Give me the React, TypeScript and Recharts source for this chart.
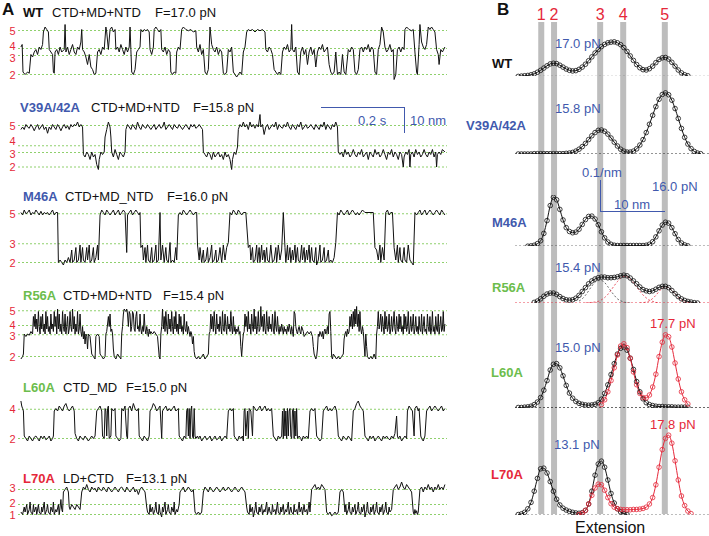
import { LineChart, Line, XAxis, YAxis, ReferenceLine } from 'recharts'

const RED = '#e5283a'
const BLUE = '#4159ad'
const GREEN = '#6cbd4c'
const GRID = '#8fd06c'
const FONT = '"Liberation Sans", Arial, sans-serif'

// ---- panel A: time traces, [time (ms), extension above lowest state (nm)] ----
const wtTrace = [[0,11],[3,12],[5,1],[10,0],[16,1],[20,0.5],[24,8],[28,7],[32,9],[36,10],[40,8],[44,11],[48,10],[52,12],[54,17],[58,19],[62,18],[66,17],[68,10],[72,9],[76,8],[78,1],[80,0.5],[82,9],[86,10],[90,8],[94,11],[98,9],[104,10],[106,20],[108,9],[112,11],[116,8],[120,10],[124,12],[128,9],[132,8],[136,11],[140,10],[144,13],[146,18],[148,10],[152,9],[156,7],[160,4],[164,8],[168,3],[172,2],[176,0],[180,0.5],[184,9],[188,10],[192,8],[196,11],[200,10],[204,19],[206,17],[210,10],[214,18],[218,19],[222,17],[226,18],[228,10],[232,11],[236,9],[240,12],[244,10],[248,8],[252,11],[256,9],[260,11],[262,19],[264,10],[266,1],[270,0],[274,2],[278,9],[282,10],[286,11],[288,18],[292,17],[296,18],[300,17.5],[304,18],[308,17],[310,10],[314,8],[318,11],[320,18],[324,19],[328,18],[332,17],[336,18],[338,10],[342,9],[346,11],[350,8],[354,10],[358,9],[360,1],[364,0],[368,1],[372,0.5],[374,9],[378,11],[382,10],[386,18],[390,19],[396,18],[402,17.5],[408,18],[414,17],[420,17.5],[422,11],[426,9],[430,12],[434,8],[438,10],[442,1],[446,0],[450,2],[454,19],[458,12],[462,10],[466,9],[470,11],[474,8],[478,10],[482,9],[486,0.5],[490,0],[494,1],[498,10],[502,9],[506,11],[510,1],[514,0],[518,-1],[522,0],[526,1],[530,0],[534,9],[538,11],[542,17],[546,18],[550,17.5],[556,18],[562,17],[568,18],[574,17.5],[580,18],[586,17],[588,10],[592,9],[596,11],[600,10],[604,8],[608,2],[612,1],[616,0],[620,1],[624,0],[628,9],[632,11],[636,10],[640,12],[644,9],[648,10],[650,20],[652,10],[656,9],[660,11],[664,1],[668,0],[672,9],[676,11],[680,8],[684,10],[688,4],[692,9],[696,11],[700,8],[704,10],[708,3],[712,9],[716,11],[720,10],[724,12],[728,9],[732,10],[736,11],[740,4],[744,1],[748,0],[752,1],[756,9],[760,0],[764,1],[768,0],[772,8],[776,1],[780,0],[786,10],[790,9],[794,11],[798,10],[802,1],[806,0],[810,2],[814,10],[818,11],[822,9],[826,11],[830,10],[834,12],[838,9],[842,11],[846,10],[850,1],[854,0],[858,10],[862,12],[866,19],[870,17],[874,11],[878,9],[882,10],[886,12],[890,9],[894,10],[896,-2],[900,0],[904,10],[908,11],[912,9],[916,11],[920,10],[922,18],[926,19],[932,18],[938,17.5],[942,18],[946,9],[950,1],[952,0],[956,12],[958,20],[962,13],[966,11],[970,10],[974,12],[978,19],[982,18],[986,19],[990,18],[994,17],[998,10],[1002,8],[1004,4],[1008,10],[1012,9],[1018,11]]

const v39Trace = [[0,15],[4,16],[8,15],[12,17],[16,16],[20,15.5],[24,17],[28,16],[32,14.5],[36,16],[40,17],[44,15],[48,16],[52,17],[56,15],[60,16],[64,13.5],[68,16],[72,15],[76,17],[80,16],[84,15],[88,17],[92,16],[96,14.5],[100,16],[104,17],[108,15.5],[112,16.5],[116,15],[120,17],[124,16],[128,17],[132,16.5],[136,18],[140,16],[144,17],[148,16],[150,5],[154,4],[158,6],[162,5],[166,3],[170,6],[174,4],[178,5],[182,1],[186,-1],[188,3],[192,6],[196,5],[200,6],[202,12],[206,15],[210,18],[214,16],[216,12],[218,6],[222,4],[226,7],[230,5],[234,3],[238,6],[242,5],[246,4],[250,6],[252,15],[256,17],[260,16],[264,15],[268,17],[272,16],[276,15],[280,18],[284,16],[288,15],[292,17],[296,16],[300,15.5],[304,17],[308,16],[312,15],[316,16],[320,17],[324,15],[328,16],[332,17],[336,15.5],[340,16],[344,18],[348,15],[352,16],[356,17],[360,16],[364,15],[368,17],[372,16],[376,15.5],[380,17],[384,16],[388,15],[392,16],[396,17],[400,16],[404,15],[408,17],[412,16],[416,17],[420,15.5],[424,16],[428,17],[432,16],[436,15],[438,6],[442,5],[446,4],[450,6],[454,5],[458,3],[462,6],[466,4],[470,5],[474,6],[478,4],[482,5],[486,3],[490,6],[494,4],[498,5],[502,3],[506,-1],[508,3],[512,6],[516,5],[520,8],[522,15],[526,17],[530,16],[534,18],[538,16],[542,17],[546,15],[550,18],[554,16],[558,17],[562,15.5],[566,17],[570,16],[574,21],[576,16],[580,17],[584,13],[588,16],[592,17],[596,15],[600,16],[604,17],[608,16],[612,18],[616,15],[620,17],[624,16],[628,15.5],[632,17],[636,16],[640,18],[644,16],[648,15],[652,17],[656,16],[660,15],[664,17],[668,16],[672,18],[676,15],[680,16],[684,17],[688,15.5],[692,16],[696,17],[700,16],[704,15],[708,17],[712,16],[716,15],[720,17],[724,16],[728,18],[732,15],[736,17],[740,16],[744,15],[748,17],[752,16],[756,18],[760,16],[762,6],[766,5],[770,6],[774,4],[778,7],[782,5],[786,6],[790,4],[794,5],[798,7],[802,5],[806,4],[810,6],[814,5],[818,7],[822,4],[826,5],[830,6],[834,3],[838,6],[842,5],[846,4],[850,7],[854,5],[858,6],[862,4],[866,5],[870,7],[874,5],[878,3],[882,6],[886,5],[890,7],[894,4],[898,6],[902,5],[906,3],[910,6],[914,5],[918,0],[920,4],[924,6],[928,5],[932,7],[934,0],[936,5],[940,6],[944,4],[948,7],[952,5],[956,6],[960,4],[964,5],[968,7],[972,5],[976,4],[980,6],[984,5],[988,7],[992,4],[996,6],[998,0],[1000,5],[1004,6],[1008,5],[1012,7],[1018,6]]

const m46Trace = [[0,20],[4,19],[8,21],[12,19.5],[16,20],[20,21],[24,19],[28,20],[32,19.5],[36,21],[40,20],[44,19],[48,20.5],[52,19],[56,20],[60,19.5],[64,20],[68,19],[72,20],[76,21],[80,19],[84,20],[88,20],[90,0],[94,1],[98,0],[102,-1],[106,1],[110,0],[114,2],[118,0],[122,5],[124,0],[128,1],[132,6],[134,0],[138,1],[142,7],[144,0],[148,6],[150,1],[154,0],[158,6],[160,1],[164,7],[166,0],[170,1],[174,6],[176,0],[180,2],[184,7],[186,1],[190,19],[194,21],[198,20],[202,19],[206,21],[210,20],[214,19],[218,20],[222,21],[226,19],[230,20],[234,21],[238,19],[242,20],[246,21],[250,20],[254,4],[256,19],[260,20],[264,21],[268,19],[272,20],[276,21],[280,20],[284,19],[286,20],[288,6],[292,7],[294,1],[298,6],[300,0],[304,7],[306,1],[310,0],[314,6],[316,0],[320,1],[324,7],[326,0],[330,1],[334,20],[336,1],[340,7],[344,0],[348,6],[350,1],[354,0],[358,8],[360,0],[364,1],[368,0],[372,6],[374,1],[378,19],[382,20],[386,19],[390,21],[394,20],[398,19],[402,20],[406,21],[410,20],[414,19],[418,20],[422,20],[424,7],[428,1],[430,6],[434,0],[438,5],[440,0],[444,1],[448,6],[450,0],[454,2],[458,7],[460,0],[464,1],[468,5],[470,0],[474,1],[478,6],[482,0],[486,7],[490,1],[494,6],[498,8],[502,20],[506,19],[510,21],[514,20],[518,19],[522,21],[526,20],[530,19],[534,20],[540,20],[546,6],[550,7],[552,1],[556,6],[558,0],[562,1],[566,7],[568,0],[572,6],[574,0],[578,7],[580,1],[584,5],[586,0],[590,6],[592,1],[596,0],[600,7],[604,0],[608,1],[612,6],[614,0],[618,7],[622,1],[626,5],[630,20],[634,6],[636,0],[640,7],[642,1],[646,6],[648,0],[652,5],[654,1],[658,7],[660,0],[664,6],[666,1],[670,0],[674,7],[676,1],[680,6],[682,0],[686,5],[688,1],[692,7],[694,0],[698,6],[700,1],[704,0],[708,6],[710,-1],[714,1],[718,7],[720,0],[724,1],[728,6],[730,0],[734,1],[738,5],[740,0],[744,1],[748,0],[752,2],[756,8],[760,20],[764,19],[768,21],[772,20],[776,19],[780,20],[784,21],[788,19],[792,20],[796,21],[800,20],[804,19],[808,20],[812,19],[816,20],[820,21],[826,20],[846,20],[850,6],[854,5],[858,1],[862,7],[864,0],[868,6],[872,1],[876,20],[880,21],[884,19],[888,20],[892,20],[896,6],[900,1],[904,7],[906,0],[910,6],[912,1],[916,0],[920,6],[922,1],[926,0],[930,7],[934,1],[938,0],[942,-1],[946,20],[950,19],[954,20],[958,21],[962,19],[966,20],[970,21],[974,19],[978,20],[982,21],[986,20],[990,19],[994,20],[998,21],[1002,20],[1006,19],[1010,21],[1014,20],[1018,19]]

const r56Trace = [[0,-1],[4,0],[6,1],[8,9],[12,8],[16,9],[20,8.5],[24,10],[28,9],[30,16],[32,12],[34,17],[36,11],[38,15],[40,10],[42,18],[44,12],[46,9],[48,16],[50,11],[52,17],[54,10],[56,13],[58,9],[60,18],[62,11],[64,16],[66,10],[68,12],[70,9],[72,17],[74,11],[76,13],[78,10],[80,18],[82,12],[84,16],[86,9],[88,19],[90,11],[92,17],[94,10],[96,13],[98,9],[100,18],[102,12],[104,10],[106,17],[108,9],[110,12],[112,16],[114,9],[116,11],[118,18],[120,12],[122,10],[124,19],[126,11],[128,16],[130,9],[132,13],[134,10],[136,18],[138,9],[140,11],[142,17],[144,10],[146,8],[148,12],[150,7],[152,10],[154,5],[156,9],[158,8],[160,3],[162,9],[166,8],[170,1],[174,0],[178,-1],[180,8],[184,9],[188,8],[190,1],[194,0],[198,-1],[202,0],[204,9],[206,10],[208,13],[210,16],[212,12],[214,17],[216,10],[218,11],[220,9],[222,3],[224,0],[228,-1],[232,1],[236,0],[240,-1],[242,9],[244,12],[246,17],[248,19],[250,18.5],[252,18],[254,19],[256,17],[258,12],[260,18],[262,17],[264,10],[266,12],[268,18],[270,17],[272,11],[274,10],[276,16],[278,18],[280,11],[282,12],[284,10],[286,17],[288,11],[290,9],[292,12],[294,10],[296,17],[298,11],[300,9],[302,12],[304,10],[306,8],[308,11],[310,9],[312,10],[316,9],[320,10],[324,9],[328,8],[332,0],[334,-1],[336,9],[338,12],[340,19],[342,11],[344,16],[346,10],[348,18],[350,12],[352,9],[354,17],[356,11],[358,15],[360,10],[362,18],[364,12],[366,9],[368,16],[370,11],[372,18],[374,10],[376,13],[378,9],[380,17],[382,11],[384,16],[386,10],[388,12],[390,9],[392,17],[394,11],[396,10],[398,14],[400,9],[402,12],[404,10],[406,8],[408,10],[410,9],[412,5],[414,8],[416,2],[418,0],[422,-1],[426,0],[430,-1],[434,0],[438,1],[442,-1],[446,0],[450,1],[452,9],[454,10],[456,17],[458,11],[460,16],[462,10],[464,18],[466,12],[468,9],[470,17],[472,11],[474,13],[476,10],[478,16],[480,12],[482,9],[484,18],[486,11],[488,10],[490,17],[492,12],[494,9],[496,16],[498,11],[500,13],[502,10],[504,18],[506,12],[508,9],[510,16],[512,10],[514,12],[516,9],[518,11],[520,10],[522,12],[524,9],[526,10],[528,4],[530,0],[532,5],[534,9],[536,10],[538,17],[540,12],[542,16],[544,10],[546,18],[548,11],[550,13],[552,9],[554,17],[556,12],[558,10],[560,19],[562,11],[564,16],[566,9],[568,12],[570,18],[572,10],[574,11],[576,20],[578,12],[580,16],[582,10],[584,17],[586,11],[588,9],[590,18],[592,12],[594,10],[596,16],[598,11],[600,13],[602,10],[604,17],[606,11],[608,9],[610,18],[612,12],[614,10],[616,16],[618,11],[620,9],[622,12],[624,10],[626,13],[628,11],[630,9],[632,12],[634,10],[636,11],[638,9],[640,12],[642,10],[644,13],[646,11],[648,9],[650,12],[652,10],[654,8],[656,18],[658,17],[660,12],[662,10],[664,9],[666,11],[668,12],[670,10],[672,9],[674,12],[676,11],[678,10],[680,8],[684,9],[688,10],[692,9],[696,10],[700,8],[702,4],[704,1],[706,0],[708,-1],[710,0],[712,3],[714,9],[716,8],[718,10],[720,9],[722,8],[724,10],[726,7],[728,10],[730,11],[732,9],[734,10],[736,12],[738,9],[740,17],[742,18],[744,10],[746,0],[748,-1],[750,1],[754,0],[758,-1],[762,0],[766,-1],[770,0],[774,1],[776,7],[778,9],[780,10],[782,8],[784,11],[786,9],[788,10],[790,16],[792,12],[794,17],[796,11],[798,18],[800,12],[802,19],[804,13],[806,20],[808,12],[810,17],[812,10],[814,18],[816,11],[818,9],[820,12],[822,10],[824,5],[826,0],[828,9],[830,4],[832,0],[836,-1],[840,0],[844,-1],[848,1],[850,0],[852,-1],[854,9],[856,12],[858,18],[860,11],[862,13],[864,17],[866,10],[868,16],[870,12],[872,9],[874,18],[876,11],[878,16],[880,10],[882,12],[884,17],[886,9],[888,11],[890,16],[892,10],[894,13],[896,18],[898,11],[900,9],[902,16],[904,12],[906,10],[908,17],[910,11],[912,16],[914,10],[916,12],[918,9],[920,17],[922,11],[924,16],[926,10],[928,12],[930,18],[932,9],[934,11],[936,16],[938,10],[940,12],[942,17],[944,9],[946,11],[948,16],[950,10],[952,12],[954,9],[956,16],[958,11],[960,10],[962,17],[964,9],[966,12],[968,16],[970,10],[972,11],[974,9],[976,17],[978,12],[980,10],[982,16],[984,9],[986,11],[988,18],[990,10],[992,12],[994,9],[996,16],[998,11],[1000,10],[1002,17],[1004,9],[1006,12],[1008,16],[1010,10],[1012,11],[1014,18],[1016,10],[1018,13]]

const l60Trace = [[0,15],[2,13],[4,12],[6,11],[8,1],[12,0],[16,-1],[20,1],[24,0],[28,-1],[32,0.5],[36,1],[40,0],[44,-1],[48,1],[52,0],[56,1],[60,-0.5],[64,0],[68,1],[72,-1],[76,0],[78,1],[80,11],[84,12],[88,11],[92,13],[96,12],[100,11],[104,13],[108,14],[112,12],[116,11],[120,12],[124,13],[128,11],[130,2],[134,0],[138,-1],[142,1],[146,0],[150,-0.5],[154,1],[158,0],[162,-1],[166,0],[170,1],[174,0],[178,1],[182,11],[186,12],[190,13],[194,11],[196,1],[200,0],[202,12],[204,11],[206,1],[208,12],[210,13],[212,0],[216,1],[218,12],[222,11],[226,12],[228,1],[232,0],[236,-1],[240,0],[242,12],[246,11],[250,13],[254,1],[256,0],[258,12],[262,13],[266,11],[270,14],[274,12],[278,11],[282,12],[284,1],[288,0],[292,-1],[296,1],[300,0],[304,-1],[308,1],[310,11],[314,12],[318,14],[322,13],[326,11],[330,12],[334,13],[338,0],[340,11],[344,12],[348,13],[352,11],[356,12],[360,11],[364,12],[368,13],[372,11],[378,12],[380,1],[384,0],[388,-1],[392,1],[396,0],[398,11],[400,12],[402,1],[404,12],[406,0],[408,11],[410,13],[412,1],[414,0],[416,12],[418,1],[420,0],[424,1],[426,0],[430,1],[434,-1],[438,0],[442,1],[446,-0.5],[450,0],[454,1],[458,-1],[462,0],[466,1],[470,-0.5],[474,0],[478,1],[482,-1],[486,0],[490,1],[494,0],[498,11],[502,12],[506,11],[510,12],[512,1],[516,0],[520,-1],[524,1],[528,0],[532,1],[534,-1],[536,11],[538,12],[540,1],[544,11],[546,0],[548,12],[552,11],[556,1],[558,13],[562,12],[566,11],[570,12],[574,13],[578,11],[582,12],[586,13],[590,11],[594,12],[598,11],[602,12],[606,1],[610,0],[614,-1],[618,1],[622,0],[626,1],[628,11],[630,0],[632,12],[634,1],[636,11],[638,0],[640,12],[642,1],[644,11],[646,12],[648,1],[650,0],[652,11],[654,12],[656,0],[658,11],[660,1],[662,12],[664,0],[668,1],[672,0],[674,-1],[678,1],[682,0],[686,1],[690,0],[694,11],[698,12],[702,11],[706,12],[710,1],[714,0],[718,-1],[722,0],[726,11],[730,12],[734,13],[738,11],[742,12],[746,11],[750,12],[754,13],[758,11],[762,1],[766,0],[770,-1],[774,1],[778,0],[782,-0.5],[786,1],[790,0],[794,-1],[798,11],[802,12],[806,14],[810,15],[814,13],[818,12],[822,11],[826,1],[830,0],[834,-1],[838,1],[842,0],[846,1],[850,-1],[854,0],[858,1],[862,0],[866,-1],[870,1],[874,0],[878,1],[882,0],[886,-0.5],[890,1],[894,0],[898,2],[902,9],[904,1],[906,0],[910,1],[914,-1],[918,0],[922,1],[926,0],[928,11],[932,13],[936,12],[940,11],[944,1],[946,12],[950,13],[954,11],[956,12],[960,1],[962,0],[966,-1],[970,1],[974,11],[978,12],[982,13],[986,11],[990,12],[994,13],[998,12],[1002,11],[1006,12],[1010,13],[1014,11],[1018,12]]

const l70Trace = [[0,1],[4,0],[8,3],[10,1],[14,4],[16,0],[20,2],[22,5],[24,1],[28,0],[30,4],[32,1],[36,3],[38,0],[42,4],[44,1],[48,0],[50,3],[52,1],[56,5],[58,0],[62,2],[64,4],[66,1],[70,0],[72,3],[76,1],[78,5],[80,0],[84,2],[86,1],[90,4],[92,0],[96,6],[98,2],[100,1],[102,9],[106,10],[110,11],[114,9],[116,3],[118,2],[122,4],[126,3],[130,2],[134,4],[138,3],[142,2],[146,9],[150,11],[154,10],[158,12],[162,10],[166,9],[170,11],[174,10],[178,10.5],[182,9],[186,11],[190,10],[194,9.5],[198,11],[202,10],[206,9],[210,11],[214,10],[218,9],[222,10],[226,11],[230,10],[234,9],[238,10.5],[242,11],[246,10],[250,9],[254,11],[258,10],[262,9],[266,10],[270,11],[274,9],[278,10],[282,8],[286,10],[290,11],[294,10],[298,9],[302,3],[304,1],[308,0],[310,4],[312,1],[316,3],[318,0],[322,2],[324,5],[326,1],[330,0],[332,4],[334,1],[338,-1],[340,3],[342,1],[346,5],[348,0],[352,2],[354,4],[356,1],[360,0],[362,3],[366,1],[368,5],[370,0],[374,2],[376,1],[380,4],[382,9],[386,10],[390,11],[394,9],[398,10],[402,11],[406,10],[410,9],[414,10],[418,1],[422,0],[426,1],[430,0],[434,1],[438,9],[442,11],[446,10],[450,9],[454,11],[458,10],[462,9],[466,10],[470,11],[474,10],[478,9],[482,10],[486,11],[490,9.5],[494,10],[498,11],[502,10],[506,9],[510,10],[514,11],[518,10],[522,9],[526,10],[530,11],[534,10],[538,9],[542,3],[544,1],[548,0],[550,4],[552,1],[556,3],[558,-1],[562,2],[564,5],[566,1],[570,0],[572,3],[574,1],[578,4],[580,0],[584,2],[586,1],[590,5],[592,0],[596,3],[598,1],[602,0],[604,4],[606,1],[610,2],[612,0],[616,5],[618,1],[622,0],[624,3],[626,1],[630,4],[632,0],[636,2],[638,1],[642,5],[644,0],[648,3],[650,1],[654,0],[656,4],[658,1],[662,2],[664,0],[668,5],[670,1],[674,3],[676,0],[680,4],[682,1],[686,2],[688,0],[692,5],[694,1],[698,10],[702,11],[706,12],[710,10],[714,11],[718,10],[722,12],[726,11],[730,10],[734,1],[738,0],[742,1],[746,-0.5],[750,0],[754,1],[758,0],[762,1],[766,9],[770,10],[774,9],[778,1],[780,4],[782,0],[786,2],[788,5],[790,1],[794,0],[796,3],[798,1],[802,4],[804,0],[808,2],[810,5],[812,1],[816,0],[818,3],[820,1],[824,4],[826,-1],[830,2],[832,5],[834,1],[838,0],[840,3],[842,1],[846,4],[848,0],[852,2],[854,5],[856,1],[860,0],[862,3],[864,1],[868,4],[870,0],[874,2],[876,5],[878,1],[882,0],[884,3],[886,1],[890,2],[894,10],[898,11],[902,12],[906,10],[910,11],[914,13],[918,11],[922,10],[926,12],[930,11],[934,10],[938,9],[942,1],[944,0],[946,2],[948,0.5],[950,1.5],[952,0],[954,1],[958,10],[962,11],[966,9],[970,11],[974,10],[978,12],[982,10],[986,11],[990,9],[994,11],[998,10],[1002,12],[1006,10],[1010,11],[1014,10],[1018,12]]

// state levels (nm above lowest marked state) and their names
const wtLevels = [0, 7.6, 10.4, 17.6]
const v39Levels = [0, 5.8, 8.5, 16.6]
const m46Levels = [0, 7.5, 19.5]
const r56Levels = [0, 8.7, 12.4, 18.3]
const l60Levels = [0, 11.7]
const l70Levels = [0, 4, 10]

const traceRows = [
  { label: 'WT', color: '#111', construct: 'CTD+MD+NTD', force: 'F=17.0 pN', data: wtTrace, levels: wtLevels, states: ['2', '3', '4', '5'], nudge: [0, 2, -3, 0], domain: [-3, 21], base: 74, titleY: 12, xs: [23, 52, 155] },
  { label: 'V39A/42A', color: BLUE, construct: 'CTD+MD+NTD', force: 'F=15.8 pN', data: v39Trace, levels: v39Levels, states: ['2', '3', '4', '5'], nudge: [0, 1, -4.5, 0], domain: [-3, 22], base: 167.3, titleY: 107, xs: [20, 91, 193] },
  { label: 'M46A', color: BLUE, construct: 'CTD+MD_NTD', force: 'F=16.0 pN', data: m46Trace, levels: m46Levels, states: ['2', '3', '5'], nudge: [0, 0, 0], domain: [-3, 23], base: 262.7, titleY: 196, xs: [23, 65, 167] },
  { label: 'R56A', color: GREEN, construct: 'CTD+MD+NTD', force: 'F=15.4 pN', data: r56Trace, levels: r56Levels, states: ['2', '3', '4', '5'], nudge: [0, 1.5, -1, 0], domain: [-3, 21], base: 356.7, titleY: 295, xs: [23, 63, 163] },
  { label: 'L60A', color: GREEN, construct: 'CTD_MD', force: 'F=15.0 pN', data: l60Trace, levels: l60Levels, states: ['2', '4'], nudge: [0, 0], domain: [-3, 17], base: 438, titleY: 387, xs: [23, 63, 126] },
  { label: 'L70A', color: RED, construct: 'LD+CTD', force: 'F=13.1 pN', data: l70Trace, levels: l70Levels, states: ['1', '2', '3'], nudge: [0.5, -1.5, -1.5], domain: [-3, 15], base: 514, titleY: 478, xs: [23, 63, 126] },
]

// ---- panel B: extension histograms (probability per nm) ----
const _ = null
const binNm = [0.5, 1, 1.5, 2, 2.5, 3, 3.5, 4, 4.5, 5, 5.5, 6, 6.5, 7, 7.5, 8, 8.5, 9, 9.5, 10, 10.5, 11, 11.5, 12, 12.5, 13, 13.5, 14, 14.5, 15, 15.5, 16, 16.5, 17, 17.5, 18, 18.5, 19, 19.5, 20, 20.5, 21, 21.5, 22, 22.5, 23, 23.5, 24, 24.5, 25, 25.5, 26, 26.5, 27, 27.5, 28, 28.5, 29, 29.5]

const wtHist = [0.000, 0.001, 0.002, 0.003, 0.005, 0.008, 0.013, 0.019, 0.026, 0.033,
  0.039, 0.041, 0.040, 0.035, 0.029, 0.023, 0.019, 0.017, 0.018, 0.022,
  0.029, 0.038, 0.049, 0.061, 0.073, 0.084, 0.093, 0.100, 0.105, 0.107,
  0.108, 0.105, 0.099, 0.090, 0.078, 0.064, 0.050, 0.037, 0.027, 0.021,
  0.020, 0.024, 0.032, 0.043, 0.053, 0.058, 0.059, 0.054, 0.044, 0.032,
  0.020, 0.011, 0.005, 0.002, _, _, _, _, _]
const v39Hist = [0.000, 0.000, 0.000, 0.000, 0.000, 0.001, 0.001, 0.001, 0.001, 0.001,
  0.001, 0.001, 0.001, 0.001, 0.001, 0.002, 0.003, 0.005, 0.009, 0.015,
  0.023, 0.033, 0.045, 0.057, 0.067, 0.074, 0.075, 0.071, 0.062, 0.050,
  0.037, 0.025, 0.015, 0.009, 0.006, 0.006, 0.009, 0.016, 0.028, 0.045,
  0.067, 0.093, 0.121, 0.148, 0.171, 0.186, 0.191, 0.185, 0.168, 0.142,
  0.111, 0.080, 0.052, 0.031, 0.017, 0.008, 0.003, 0.001, _]
const m46Hist = [_, _, _, 0.000, 0.001, 0.003, 0.008, 0.017, 0.040, 0.080,
  0.127, 0.153, 0.145, 0.115, 0.082, 0.058, 0.046, 0.042, 0.044, 0.053,
  0.068, 0.083, 0.093, 0.094, 0.085, 0.067, 0.045, 0.026, 0.013, 0.006,
  0.003, 0.002, 0.002, 0.002, 0.002, 0.002, 0.002, 0.002, 0.002, 0.002,
  0.003, 0.006, 0.014, 0.029, 0.048, 0.066, 0.075, 0.072, 0.058, 0.039,
  0.021, 0.010, 0.004, 0.001, _, _, _, _, _]
const r56Hist = [_, _, _, _, _, 0.002, 0.006, 0.013, 0.021, 0.028,
  0.031, 0.031, 0.027, 0.020, 0.014, 0.010, 0.009, 0.010, 0.015, 0.024,
  0.036, 0.048, 0.060, 0.069, 0.075, 0.079, 0.081, 0.081, 0.079, 0.079,
  0.080, 0.082, 0.085, 0.087, 0.085, 0.078, 0.069, 0.060, 0.050, 0.042,
  0.038, 0.036, 0.038, 0.043, 0.049, 0.052, 0.052, 0.048, 0.039, 0.029,
  0.020, 0.013, 0.008, 0.005, 0.003, 0.001, 0.000, _, _]
const r56Fit3 = [_, _, _, _, _, _, _, _, _, _,
  _, _, _, _, _, _, _, _, _, 0.006,
  0.013, 0.024, 0.038, 0.053, 0.065, 0.070, 0.070, 0.064, 0.051, 0.037,
  0.024, 0.013, 0.007, 0.003, 0.001, 0.000, _, _, _, _,
  _, _, _, _, _, _, _, _, _, _,
  _, _, _, _, _, _, _, _, _]
const r56Fit4 = [_, _, _, _, _, _, _, _, _, _,
  _, _, _, _, _, _, _, _, _, _,
  _, 0.000, 0.001, 0.002, 0.003, 0.005, 0.010, 0.017, 0.027, 0.040,
  0.054, 0.067, 0.078, 0.083, 0.082, 0.075, 0.063, 0.050, 0.037, 0.025,
  0.016, 0.009, 0.005, 0.002, 0.000, _, _, _, _, _,
  _, _, _, _, _, _, _, _, _]
const r56Fit5 = [_, _, _, _, _, _, _, _, _, _,
  _, _, _, _, _, _, _, _, _, _,
  _, _, _, _, _, _, _, _, _, _,
  _, _, _, _, _, _, _, _, 0.000, 0.001,
  0.003, 0.007, 0.014, 0.024, 0.036, 0.046, 0.050, 0.048, 0.040, 0.029,
  0.017, 0.009, 0.004, 0.002, 0.000, _, _, _, _]
const l60Hist = [0.001, 0.001, 0.002, 0.003, 0.005, 0.010, 0.018, 0.032, 0.055, 0.085,
  0.118, 0.136, 0.138, 0.125, 0.100, 0.070, 0.046, 0.030, 0.020, 0.014,
  0.011, 0.009, 0.008, 0.009, 0.011, 0.016, 0.027, 0.045, 0.072, 0.104,
  0.138, 0.168, 0.186, 0.190, 0.180, 0.155, 0.120, 0.082, 0.050, 0.028,
  0.016, 0.010, 0.007, 0.005, 0.004, 0.004, 0.003, 0.003, 0.003, 0.002,
  0.002, 0.002, 0.002, 0.002, _, _, _, _, _]
const l60HiHist = [_, _, _, _, _, _, _, _, _, _,
  _, _, _, _, _, _, _, _, _, _,
  _, _, _, _, _, _, 0.010, 0.025, 0.050, 0.085,
  0.125, 0.165, 0.193, 0.200, 0.188, 0.155, 0.112, 0.072, 0.045, 0.032,
  0.031, 0.040, 0.065, 0.105, 0.160, 0.205, 0.228, 0.222, 0.190, 0.140,
  0.090, 0.050, 0.025, 0.012, _, _, _, _, _]
const l70Hist = [0.002, 0.004, 0.009, 0.020, 0.040, 0.075, 0.115, 0.145, 0.147, 0.132,
  0.105, 0.075, 0.050, 0.032, 0.022, 0.016, 0.012, 0.009, 0.007, 0.006,
  0.008, 0.015, 0.035, 0.075, 0.125, 0.160, 0.169, 0.150, 0.110, 0.068,
  0.038, 0.020, 0.010, 0.005, 0.002, _, _, _, _, _,
  _, _, _, _, _, _, _, _, _, _,
  _, _, _, _, _, _, _, _, _]
const l70HiHist = [_, _, _, _, _, _, _, _, _, _,
  _, _, _, _, _, _, _, _, _, 0.002,
  0.006, 0.015, 0.035, 0.062, 0.085, 0.097, 0.095, 0.078, 0.055, 0.036,
  0.025, 0.020, 0.018, 0.017, 0.017, 0.017, 0.018, 0.018, 0.019, 0.021,
  0.025, 0.035, 0.055, 0.095, 0.150, 0.205, 0.240, 0.250, 0.225, 0.170,
  0.110, 0.060, 0.030, 0.013, 0.005, _, _, _, _]

const statePos = [4.1, 6.1, 13.3, 16.9, 23.4]
const stateNames = ['1', '2', '3', '4', '5']

const histRows = binNm.map((x, i) => ({
  x,
  wt: wtHist[i], v39: v39Hist[i], m46: m46Hist[i], r56: r56Hist[i],
  r56c3: r56Fit3[i], r56c4: r56Fit4[i], r56c5: r56Fit5[i],
  l60: l60Hist[i], l60hi: l60HiHist[i], l70: l70Hist[i], l70hi: l70HiHist[i],
}))

const histPanels = [
  { label: 'WT', color: '#111', lx: 492, ly: 63, base: 76, max: 0.12, series: [{ key: 'wt', color: '#111' }], fits: [], baseColor: '#111' },
  { label: 'V39A/42A', color: BLUE, lx: 466, ly: 125, base: 154, max: 0.2, series: [{ key: 'v39', color: '#111' }], fits: [], baseColor: '#111' },
  { label: 'M46A', color: BLUE, lx: 492, ly: 222, base: 246, max: 0.16, series: [{ key: 'm46', color: '#111' }], fits: [], baseColor: '#111' },
  { label: 'R56A', color: GREEN, lx: 492, ly: 287, base: 303, max: 0.1, series: [{ key: 'r56', color: '#111' }], fits: [{ key: 'r56c3', color: '#444' }, { key: 'r56c4', color: RED }, { key: 'r56c5', color: RED }], baseColor: RED },
  { label: 'L60A', color: GREEN, lx: 491, ly: 372, base: 408, max: 0.24, series: [{ key: 'l60', color: '#111' }, { key: 'l60hi', color: RED }], fits: [], baseColor: '#111' },
  { label: 'L70A', color: RED, lx: 491, ly: 474, base: 515, max: 0.26, series: [{ key: 'l70', color: '#111' }, { key: 'l70hi', color: RED }], fits: [], baseColor: '#111' },
]

const forceNotes = [
  { text: '17.0 pN', x: 555, y: 43, color: BLUE },
  { text: '15.8 pN', x: 555, y: 108, color: BLUE },
  { text: '16.0 pN', x: 652, y: 186, color: BLUE },
  { text: '15.4 pN', x: 555, y: 267, color: BLUE },
  { text: '17.7 pN', x: 650, y: 323, color: RED },
  { text: '15.0 pN', x: 555, y: 347, color: BLUE },
  { text: '17.8 pN', x: 650, y: 424, color: RED },
  { text: '13.1 pN', x: 554, y: 444, color: BLUE },
]

const PX_PER_NM = 2.5 // trace vertical scale
const PX_PER_DENS = 320 // histogram vertical scale

function Txt({ x, y, children, size = 13, color = '#111', bold = false }: any) {
  return (
    <div style={{ position: 'absolute', left: x, top: y, transform: 'translateY(-50%)', fontSize: size, lineHeight: 1, color, fontWeight: bold ? 700 : 400, whiteSpace: 'nowrap' }}>
      {children}
    </div>
  )
}

function openDot(color: string) {
  return (p: any) => {
    if (p.cy == null || p.value == null) return <g key={p.index} />
    return <circle key={p.index} cx={p.cx} cy={p.cy} r={2.3} fill="none" stroke={color} strokeWidth={0.8} />
  }
}

function TraceRow({ row }: any) {
  const [lo, hi] = row.domain
  const h = (hi - lo) * PX_PER_NM
  const top = row.base - hi * PX_PER_NM
  const data = row.data.map(([t, y]: number[]) => ({ t, y }))
  const tick = (p: any) => {
    const i = row.levels.indexOf(p.payload.value)
    return (
      <text x={15.5} y={p.y + (row.nudge[i] || 0)} textAnchor="end" dominantBaseline="central" fill={RED} fontSize={11} fontFamily={FONT}>
        {row.states[i]}
      </text>
    )
  }
  return (
    <>
      <Txt x={row.xs[0]} y={row.titleY} color={row.color} bold>{row.label}</Txt>
      <Txt x={row.xs[1]} y={row.titleY}>{row.construct}</Txt>
      <Txt x={row.xs[2]} y={row.titleY}>{row.force}</Txt>
      <div style={{ position: 'absolute', left: 0, top }}>
        <LineChart width={447} height={h} data={data} margin={{ top: 0, right: 0, bottom: 0, left: 0 }}>
          <XAxis dataKey="t" type="number" domain={[-7, 1023]} hide />
          <YAxis type="number" domain={row.domain} ticks={row.levels} interval={0} width={18} axisLine={false} tickLine={false} tick={tick} />
          {row.levels.map((lv: number) => (
            <ReferenceLine key={lv} y={lv} stroke={GRID} strokeDasharray="2 2" strokeWidth={1} />
          ))}
          <Line dataKey="y" type="linear" stroke="#111" strokeWidth={1} dot={false} isAnimationActive={false} />
        </LineChart>
      </div>
    </>
  )
}

function HistPanel({ p }: any) {
  const h = p.max * PX_PER_DENS
  return (
    <>
      <Txt x={p.lx} y={p.ly} color={p.color} bold>{p.label}</Txt>
      <div style={{ position: 'absolute', left: 515, top: p.base - h }}>
        <LineChart width={194} height={h} data={histRows} margin={{ top: 0, right: 0, bottom: 0, left: 0 }}>
          <XAxis dataKey="x" type="number" domain={[0, 30.3]} hide />
          <YAxis type="number" domain={[0, p.max]} hide />
          <ReferenceLine y={0} stroke={p.baseColor} strokeDasharray="2 2" strokeWidth={0.9} />
          {p.fits.map((f: any) => (
            <Line key={f.key} dataKey={f.key} type="monotone" stroke={f.color} strokeDasharray="2 2" strokeWidth={0.8} dot={false} isAnimationActive={false} />
          ))}
          {p.series.map((s: any) => (
            <Line key={s.key} dataKey={s.key} type="monotone" stroke={s.color} strokeWidth={1} dot={openDot(s.color)} isAnimationActive={false} />
          ))}
        </LineChart>
      </div>
    </>
  )
}

export default function App() {
  const bands = statePos.map((x) => ({ x, y: 0 }))
  const stateTick = (p: any) => (
    <text x={p.x} y={14} textAnchor="middle" dominantBaseline="central" fill={RED} fontSize={16} fontFamily={FONT}>
      {stateNames[statePos.indexOf(p.payload.value)]}
    </text>
  )
  return (
    <div style={{ position: 'absolute', left: 0, top: 0, width: 709, height: 536, background: '#fff', fontFamily: FONT, overflow: 'hidden' }}>
      <Txt x={2} y={9} size={17} bold>A</Txt>
      <Txt x={497} y={9} size={17} bold>B</Txt>

      {traceRows.map((r) => <TraceRow key={r.label} row={r} />)}

      {/* time / extension scale bar */}
      <div style={{ position: 'absolute', left: 321, top: 107, width: 84, borderTop: `1.5px solid ${BLUE}` }} />
      <div style={{ position: 'absolute', left: 404, top: 107, height: 26, borderLeft: `1.5px solid ${BLUE}` }} />
      <Txt x={358} y={120} color={BLUE}>0.2 s</Txt>
      <Txt x={410} y={120} color={BLUE}>10 nm</Txt>

      {/* state bands */}
      <div style={{ position: 'absolute', left: 515, top: 0 }}>
        <LineChart width={194} height={514} data={bands} margin={{ top: 0, right: 0, bottom: 0, left: 0 }}>
          <XAxis dataKey="x" type="number" orientation="top" domain={[0, 30.3]} ticks={statePos} interval={0} height={22} axisLine={false} tickLine={false} tick={stateTick} />
          <YAxis type="number" domain={[0, 1]} hide />
          {statePos.map((x) => (
            <ReferenceLine key={x} x={x} stroke="#bdbdbd" strokeWidth={6} />
          ))}
          <Line dataKey="y" stroke="none" dot={false} isAnimationActive={false} />
        </LineChart>
      </div>

      {histPanels.map((p) => <HistPanel key={p.label} p={p} />)}

      {forceNotes.map((n) => <Txt key={n.text} x={n.x} y={n.y} color={n.color}>{n.text}</Txt>)}

      {/* density / extension scale bar */}
      <div style={{ position: 'absolute', left: 600, top: 180, height: 32, borderLeft: `1.5px solid ${BLUE}` }} />
      <div style={{ position: 'absolute', left: 600, top: 211, width: 65, borderTop: `1.5px solid ${BLUE}` }} />
      <Txt x={582} y={172} color={BLUE}>0.1/nm</Txt>
      <Txt x={614} y={204} color={BLUE}>10 nm</Txt>

      <Txt x={575} y={528} size={16}>Extension</Txt>
    </div>
  )
}
